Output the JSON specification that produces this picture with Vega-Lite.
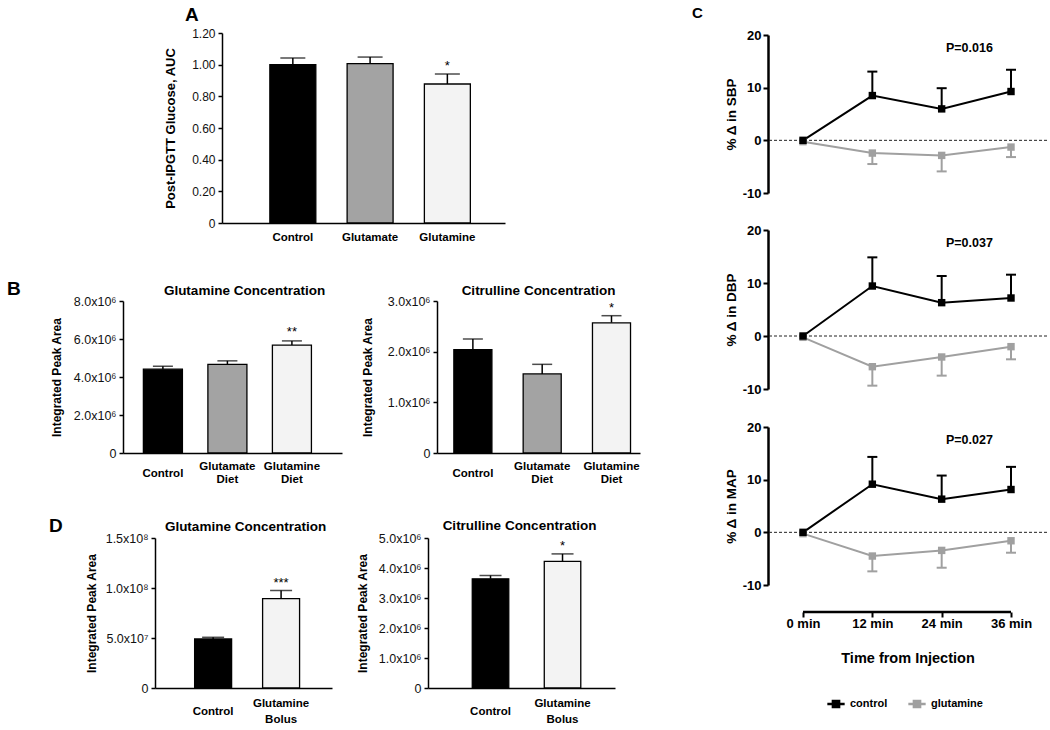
{
 "$schema": "https://vega.github.io/schema/vega-lite/v6.json",
 "background": "white",
 "padding": 0,
 "config": {
  "view": {"stroke": null},
  "font": "Liberation Sans",
  "axis": {"grid": false, "labelOverlap": false, "tickCount": 20, "domainColor": "#000", "tickColor": "#000", "labelColor": "#111", "titleColor": "#000", "labelFont": "Liberation Sans", "titleFont": "Liberation Sans"},
  "title": {"font": "Liberation Sans", "fontWeight": "bold", "color": "#000"},
  "text": {"font": "Liberation Sans"}
 },
 "resolve": {"scale": {"color": "independent"}, "legend": {"color": "independent"}},
 "spacing": 0,
 "hconcat": [
  {
   "spacing": 0,
   "vconcat": [
    {"width": 1, "height": 6, "data": {"values": []}, "mark": "point"},
    {
     "hconcat": [
      {"width": 222, "height": 190, "data": {"values": []}, "mark": "point"},
      {
       "width": 283, "height": 190,
       "title": {"text": "A", "anchor": "start", "frame": "group", "dx": -37, "fontSize": 19, "offset": 2},
       "data": {"values": [
        {"group": "Control", "label": "Control", "mean": 1.0, "err": 1.042},
        {"group": "Glutamate", "label": "Glutamate", "mean": 1.006, "err": 1.048},
        {"group": "Glutamine", "label": "Glutamine", "mean": 0.878, "err": 0.941, "sig": "*"}
       ]},
       "encoding": {
        "x": {"field": "label", "type": "nominal", "sort": null, "scale": {"paddingInner": 0.405, "paddingOuter": 0.534, "align": 0.58},
         "axis": {"title": null, "labelAngle": 0, "ticks": false, "tickSize": 0, "domainWidth": 1.5, "labelFontWeight": "bold", "labelFontSize": 11.5, "labelColor": "#000", "labelPadding": 14, "labelBaseline": "middle"}}
       },
       "layer": [
        {"mark": {"type": "rule", "color": "#000", "strokeWidth": 1.5},
         "encoding": {"y": {"field": "mean", "type": "quantitative", "title": "Post-IPGTT Glucose, AUC", "scale": {"domain": [0, 1.2], "nice": false},
          "axis": {"values": [0, 0.2, 0.4, 0.6, 0.8, 1.0, 1.2], "tickCount": 20, "labelOverlap": false, "labelExpr": "datum.value == 0 ? '0' : format(datum.value, '.2f')", "titleFontSize": 13, "titleFontWeight": "bold", "titlePadding": 14, "labelFontSize": 12, "tickSize": 4, "tickWidth": 1.5, "domainWidth": 1.5, "labelPadding": 3}},
          "y2": {"field": "err"}}},
        {"mark": {"type": "bar", "stroke": "#000", "strokeWidth": 1.3},
         "encoding": {"y": {"field": "mean", "type": "quantitative", "title": "Post-IPGTT Glucose, AUC"},
          "color": {"field": "group", "type": "nominal", "scale": {"domain": ["Control", "Glutamate", "Glutamine"], "range": ["#000000", "#a3a3a3", "#f3f3f3"]}, "legend": null}}},
        {"mark": {"type": "tick", "orient": "horizontal", "color": "#000", "thickness": 1.5, "size": 25},
         "encoding": {"y": {"field": "err", "type": "quantitative", "title": "Post-IPGTT Glucose, AUC"}}},
        {"transform": [{"filter": "datum.sig"}],
         "mark": {"type": "text", "fontSize": 13, "dy": -4, "baseline": "alphabetic", "color": "#000"},
         "encoding": {"y": {"field": "err", "type": "quantitative", "title": "Post-IPGTT Glucose, AUC"}, "text": {"field": "sig"}}}
       ]
      }
     ],
     "spacing": 0, "bounds": "flush"
    },
    {"width": 1, "height": 12, "data": {"values": []}, "mark": "point"},
    {
     "hconcat": [
      {"width": 123, "height": 152, "data": {"values": []}, "mark": "point",
       "title": {"text": ["", "B"], "lineHeight": 25, "anchor": "start", "frame": "group", "dx": 7, "fontSize": 19, "offset": 2}},
      {
       "width": 219, "height": 152,
       "title": {"text": "Glutamine Concentration", "frame": "group", "fontSize": 13.5, "offset": 1, "dx": 12, "dy": 3},
       "data": {"values": [
        {"group": "Control", "label": "Control", "mean": 4410000, "err": 4570000},
        {"group": "Glutamate", "label": "Glutamate Diet", "mean": 4660000, "err": 4850000},
        {"group": "Glutamine", "label": "Glutamine Diet", "mean": 5680000, "err": 5900000, "sig": "**"}
       ]},
       "encoding": {
        "x": {"field": "label", "type": "nominal", "sort": null, "scale": {"paddingInner": 0.395, "paddingOuter": 0.395, "align": 0.4},
         "axis": {"title": null, "labelAngle": 0, "ticks": false, "tickSize": 0, "domainWidth": 1.5, "labelFontWeight": "bold", "labelFontSize": 11.5, "labelColor": "#000", "labelPadding": 13.5, "labelBaseline": "middle", "labelLineHeight": 6.5,
          "labelExpr": "indexof(datum.label, ' ') < 0 ? ['\u200b', datum.label] : [split(datum.label, ' ')[0], '\u200b', split(datum.label, ' ')[1]]"}}
       },
       "layer": [
        {"mark": {"type": "rule", "color": "#000", "strokeWidth": 1.5},
         "encoding": {"y": {"field": "mean", "type": "quantitative", "title": "Integrated  Peak Area", "scale": {"domain": [0, 8000000], "nice": false},
          "axis": {"values": [0, 2000000, 4000000, 6000000, 8000000], "tickCount": 20, "labelOverlap": false, "labelExpr": "datum.value == 0 ? '0' : format(datum.value/1e6, '.1f') + 'x10⁶'", "titleFontSize": 12, "titleFontWeight": "bold", "titlePadding": 10, "labelFontSize": 12.5, "tickSize": 4, "tickWidth": 1.5, "domainWidth": 1.5, "labelPadding": 3}},
          "y2": {"field": "err"}}},
        {"mark": {"type": "bar", "stroke": "#000", "strokeWidth": 1.3},
         "encoding": {"y": {"field": "mean", "type": "quantitative", "title": "Integrated  Peak Area"},
          "color": {"field": "group", "type": "nominal", "scale": {"domain": ["Control", "Glutamate", "Glutamine"], "range": ["#000000", "#a3a3a3", "#f3f3f3"]}, "legend": null}}},
        {"mark": {"type": "tick", "orient": "horizontal", "color": "#000", "thickness": 1.5, "size": 20},
         "encoding": {"y": {"field": "err", "type": "quantitative", "title": "Integrated  Peak Area"}}},
        {"transform": [{"filter": "datum.sig"}],
         "mark": {"type": "text", "fontSize": 13, "dy": -5, "baseline": "alphabetic", "color": "#000"},
         "encoding": {"y": {"field": "err", "type": "quantitative", "title": "Integrated  Peak Area"}, "text": {"field": "sig"}}}
       ]
      },
      {"width": 95, "height": 152, "data": {"values": []}, "mark": "point"},
      {
       "width": 203, "height": 152,
       "title": {"text": "Citrulline Concentration", "frame": "group", "fontSize": 13.5, "offset": 1, "dx": 0, "dy": 3},
       "data": {"values": [
        {"group": "Control", "label": "Control", "mean": 2040000, "err": 2250000},
        {"group": "Glutamate", "label": "Glutamate Diet", "mean": 1560000, "err": 1750000},
        {"group": "Glutamine", "label": "Glutamine Diet", "mean": 2570000, "err": 2710000, "sig": "*"}
       ]},
       "encoding": {
        "x": {"field": "label", "type": "nominal", "sort": null, "scale": {"paddingInner": 0.451, "paddingOuter": 0.19, "align": 0.64},
         "axis": {"title": null, "labelAngle": 0, "ticks": false, "tickSize": 0, "domainWidth": 1.5, "labelFontWeight": "bold", "labelFontSize": 11.5, "labelColor": "#000", "labelPadding": 13.5, "labelBaseline": "middle", "labelLineHeight": 6.5,
          "labelExpr": "indexof(datum.label, ' ') < 0 ? ['\u200b', datum.label] : [split(datum.label, ' ')[0], '\u200b', split(datum.label, ' ')[1]]"}}
       },
       "layer": [
        {"mark": {"type": "rule", "color": "#000", "strokeWidth": 1.5},
         "encoding": {"y": {"field": "mean", "type": "quantitative", "title": "Integrated  Peak Area", "scale": {"domain": [0, 3000000], "nice": false},
          "axis": {"values": [0, 1000000, 2000000, 3000000], "tickCount": 20, "labelOverlap": false, "labelExpr": "datum.value == 0 ? '0' : format(datum.value/1e6, '.1f') + 'x10⁶'", "titleFontSize": 12, "titleFontWeight": "bold", "titlePadding": 13, "labelFontSize": 12.5, "tickSize": 4, "tickWidth": 1.5, "domainWidth": 1.5, "labelPadding": 3}},
          "y2": {"field": "err"}}},
        {"mark": {"type": "bar", "stroke": "#000", "strokeWidth": 1.3},
         "encoding": {"y": {"field": "mean", "type": "quantitative", "title": "Integrated  Peak Area"},
          "color": {"field": "group", "type": "nominal", "scale": {"domain": ["Control", "Glutamate", "Glutamine"], "range": ["#000000", "#a3a3a3", "#f3f3f3"]}, "legend": null}}},
        {"mark": {"type": "tick", "orient": "horizontal", "color": "#000", "thickness": 1.5, "size": 20},
         "encoding": {"y": {"field": "err", "type": "quantitative", "title": "Integrated  Peak Area"}}},
        {"transform": [{"filter": "datum.sig"}],
         "mark": {"type": "text", "fontSize": 13, "dy": -4, "baseline": "alphabetic", "color": "#000"},
         "encoding": {"y": {"field": "err", "type": "quantitative", "title": "Integrated  Peak Area"}, "text": {"field": "sig"}}}
       ]
      }
     ],
     "spacing": 0, "bounds": "flush"
    },
    {"width": 1, "height": 7, "data": {"values": []}, "mark": "point"},
    {
     "hconcat": [
      {"width": 155, "height": 150, "data": {"values": []}, "mark": "point",
       "title": {"text": ["", "D"], "lineHeight": 25, "anchor": "start", "frame": "group", "dx": 49, "fontSize": 19, "offset": 2}},
      {
       "width": 177, "height": 150,
       "title": {"text": "Glutamine Concentration", "frame": "group", "fontSize": 13.5, "offset": 1, "dx": 2, "dy": 2.5},
       "data": {"values": [
        {"group": "Control", "label": "Control", "mean": 49000000, "err": 50700000},
        {"group": "Glutamine", "label": "Glutamine Bolus", "mean": 89400000, "err": 97400000, "sig": "***"}
       ]},
       "encoding": {
        "x": {"field": "label", "type": "nominal", "sort": null, "scale": {"paddingInner": 0.456, "paddingOuter": 0.53, "align": 0.55},
         "axis": {"title": null, "labelAngle": 0, "ticks": false, "tickSize": 0, "domainWidth": 1.5, "labelFontWeight": "bold", "labelFontSize": 11.5, "labelColor": "#000", "labelPadding": 15, "labelBaseline": "middle", "labelLineHeight": 8,
          "labelExpr": "indexof(datum.label, ' ') < 0 ? ['\u200b', datum.label] : [split(datum.label, ' ')[0], '\u200b', split(datum.label, ' ')[1]]"}}
       },
       "layer": [
        {"mark": {"type": "rule", "color": "#000", "strokeWidth": 1.5},
         "encoding": {"y": {"field": "mean", "type": "quantitative", "title": "Integrated  Peak Area", "scale": {"domain": [0, 150000000], "nice": false},
          "axis": {"values": [0, 50000000, 100000000, 150000000], "tickCount": 20, "labelOverlap": false, "labelExpr": "datum.value == 0 ? '0' : datum.value < 1e8 ? format(datum.value/1e7, '.1f') + 'x10⁷' : format(datum.value/1e8, '.1f') + 'x10⁸'", "titleFontSize": 12, "titleFontWeight": "bold", "titlePadding": 7, "labelFontSize": 12.5, "tickSize": 4, "tickWidth": 1.5, "domainWidth": 1.5, "labelPadding": 3}},
          "y2": {"field": "err"}}},
        {"mark": {"type": "bar", "stroke": "#000", "strokeWidth": 1.3},
         "encoding": {"y": {"field": "mean", "type": "quantitative", "title": "Integrated  Peak Area"},
          "color": {"field": "group", "type": "nominal", "scale": {"domain": ["Control", "Glutamate", "Glutamine"], "range": ["#000000", "#a3a3a3", "#f3f3f3"]}, "legend": null}}},
        {"mark": {"type": "tick", "orient": "horizontal", "color": "#000", "thickness": 1.5, "size": 22},
         "encoding": {"y": {"field": "err", "type": "quantitative", "title": "Integrated  Peak Area"}}},
        {"transform": [{"filter": "datum.sig"}],
         "mark": {"type": "text", "fontSize": 13, "dy": -4, "baseline": "alphabetic", "color": "#000"},
         "encoding": {"y": {"field": "err", "type": "quantitative", "title": "Integrated  Peak Area"}, "text": {"field": "sig"}}}
       ]
      },
      {"width": 96, "height": 150, "data": {"values": []}, "mark": "point"},
      {
       "width": 187, "height": 150,
       "title": {"text": "Citrulline Concentration", "frame": "group", "fontSize": 13.5, "offset": 1, "dx": -2, "dy": 1},
       "data": {"values": [
        {"group": "Control", "label": "Control", "mean": 3640000, "err": 3750000},
        {"group": "Glutamine", "label": "Glutamine Bolus", "mean": 4220000, "err": 4470000, "sig": "*"}
       ]},
       "encoding": {
        "x": {"field": "label", "type": "nominal", "sort": null, "scale": {"paddingInner": 0.493, "paddingOuter": 0.545, "align": 0.564},
         "axis": {"title": null, "labelAngle": 0, "ticks": false, "tickSize": 0, "domainWidth": 1.5, "labelFontWeight": "bold", "labelFontSize": 11.5, "labelColor": "#000", "labelPadding": 15, "labelBaseline": "middle", "labelLineHeight": 8,
          "labelExpr": "indexof(datum.label, ' ') < 0 ? ['\u200b', datum.label] : [split(datum.label, ' ')[0], '\u200b', split(datum.label, ' ')[1]]"}}
       },
       "layer": [
        {"mark": {"type": "rule", "color": "#000", "strokeWidth": 1.5},
         "encoding": {"y": {"field": "mean", "type": "quantitative", "title": "Integrated  Peak Area", "scale": {"domain": [0, 5000000], "nice": false},
          "axis": {"values": [0, 1000000, 2000000, 3000000, 4000000, 5000000], "tickCount": 20, "labelOverlap": false, "labelExpr": "datum.value == 0 ? '0' : format(datum.value/1e6, '.1f') + 'x10⁶'", "titleFontSize": 12, "titleFontWeight": "bold", "titlePadding": 9, "labelFontSize": 12.5, "tickSize": 4, "tickWidth": 1.5, "domainWidth": 1.5, "labelPadding": 3}},
          "y2": {"field": "err"}}},
        {"mark": {"type": "bar", "stroke": "#000", "strokeWidth": 1.3},
         "encoding": {"y": {"field": "mean", "type": "quantitative", "title": "Integrated  Peak Area"},
          "color": {"field": "group", "type": "nominal", "scale": {"domain": ["Control", "Glutamate", "Glutamine"], "range": ["#000000", "#a3a3a3", "#f3f3f3"]}, "legend": null}}},
        {"mark": {"type": "tick", "orient": "horizontal", "color": "#000", "thickness": 1.5, "size": 22},
         "encoding": {"y": {"field": "err", "type": "quantitative", "title": "Integrated  Peak Area"}}},
        {"transform": [{"filter": "datum.sig"}],
         "mark": {"type": "text", "fontSize": 13, "dy": -4, "baseline": "alphabetic", "color": "#000"},
         "encoding": {"y": {"field": "err", "type": "quantitative", "title": "Integrated  Peak Area"}, "text": {"field": "sig"}}}
       ]
      }
     ],
     "spacing": 0, "bounds": "flush"
    }
   ]
  },
  {"width": 52, "height": 1, "data": {"values": []}, "mark": "point"},
  {
   "vconcat": [
    {"width": 1, "height": 35, "data": {"values": []}, "mark": "point"},
    {
     "width": 279, "height": 158,
     "title": {"text": "C", "anchor": "start", "frame": "group", "dx": -76, "fontSize": 15, "offset": 8},
     "data": {"values": [
      {"t": 0, "g": "glutamine", "v": -0.25, "e": -0.25},
      {"t": 12, "g": "glutamine", "v": -2.42, "e": -4.5},
      {"t": 24, "g": "glutamine", "v": -2.86, "e": -5.9},
      {"t": 36, "g": "glutamine", "v": -1.28, "e": -3.18},
      {"t": 0, "g": "control", "v": 0, "e": 0},
      {"t": 12, "g": "control", "v": 8.5, "e": 13.05},
      {"t": 24, "g": "control", "v": 5.97, "e": 9.9},
      {"t": 36, "g": "control", "v": 9.27, "e": 13.4}
     ]},
     "layer": [
      {"data": {"values": [{}]}, "mark": {"type": "rule", "strokeDash": [3, 2], "color": "#222", "strokeWidth": 1},
       "encoding": {"y": {"datum": 0, "type": "quantitative", "title": "% Δ in SBP", "scale": {"domain": [-10, 20], "nice": false, "zero": false},
        "axis": {"values": [-10, 0, 10, 20], "tickCount": 20, "labelOverlap": false, "labelExpr": "datum.value < 0 ? '-' + abs(datum.value) : '' + datum.value", "labelFontWeight": "bold", "labelFontSize": 13, "labelColor": "#000", "titleFontSize": 13.5, "titleFontWeight": "bold", "domainWidth": 2.5, "tickWidth": 2, "tickSize": 5, "labelPadding": 2, "titlePadding": 4}}}},
      {"transform": [{"filter": "datum.t > 0"}], "mark": {"type": "rule", "strokeWidth": 2},
       "encoding": {"x": {"field": "t", "type": "quantitative", "scale": {"domain": [-6.06, 42.23], "nice": false, "zero": false}, "axis": null},
        "y": {"field": "v", "type": "quantitative", "title": "% Δ in SBP"}, "y2": {"field": "e"},
        "color": {"field": "g", "type": "nominal", "scale": {"domain": ["control", "glutamine"], "range": ["#000000", "#a0a0a0"]}, "legend": null}}},
      {"transform": [{"filter": "datum.t > 0"}], "mark": {"type": "tick", "orient": "horizontal", "size": 10, "thickness": 2, "opacity": 1},
       "encoding": {"x": {"field": "t", "type": "quantitative"}, "y": {"field": "e", "type": "quantitative", "title": "% Δ in SBP"},
        "color": {"field": "g", "type": "nominal", "legend": null}}},
      {"mark": {"type": "line", "strokeWidth": 2},
       "encoding": {"x": {"field": "t", "type": "quantitative"}, "y": {"field": "v", "type": "quantitative", "title": "% Δ in SBP"},
        "color": {"field": "g", "type": "nominal", "legend": null}}},
      {"mark": {"type": "point", "shape": "square", "filled": true, "size": 55, "opacity": 1},
       "encoding": {"x": {"field": "t", "type": "quantitative"}, "y": {"field": "v", "type": "quantitative", "title": "% Δ in SBP"},
        "color": {"field": "g", "type": "nominal", "legend": null}}},
      {"data": {"values": [{"p": "P=0.016"}]}, "mark": {"type": "text", "fontWeight": "bold", "fontSize": 12.5, "color": "#000", "baseline": "middle"},
       "encoding": {"x": {"datum": 28.8, "type": "quantitative"}, "y": {"datum": 17.5, "type": "quantitative"}, "text": {"field": "p"}}}
     ]
    },
    {"width": 1, "height": 37, "data": {"values": []}, "mark": "point"},
    {
     "width": 279, "height": 159,
     "data": {"values": [
      {"t": 0, "g": "glutamine", "v": -0.25, "e": -0.25},
      {"t": 12, "g": "glutamine", "v": -5.79, "e": -9.37},
      {"t": 24, "g": "glutamine", "v": -3.96, "e": -7.48},
      {"t": 36, "g": "glutamine", "v": -2.01, "e": -4.4},
      {"t": 0, "g": "control", "v": 0, "e": 0},
      {"t": 12, "g": "control", "v": 9.43, "e": 14.84},
      {"t": 24, "g": "control", "v": 6.29, "e": 11.32},
      {"t": 36, "g": "control", "v": 7.17, "e": 11.57}
     ]},
     "layer": [
      {"data": {"values": [{}]}, "mark": {"type": "rule", "strokeDash": [3, 2], "color": "#222", "strokeWidth": 1},
       "encoding": {"y": {"datum": 0, "type": "quantitative", "title": "% Δ in DBP", "scale": {"domain": [-10, 20], "nice": false, "zero": false},
        "axis": {"values": [-10, 0, 10, 20], "tickCount": 20, "labelOverlap": false, "labelExpr": "datum.value < 0 ? '-' + abs(datum.value) : '' + datum.value", "labelFontWeight": "bold", "labelFontSize": 13, "labelColor": "#000", "titleFontSize": 13.5, "titleFontWeight": "bold", "domainWidth": 2.5, "tickWidth": 2, "tickSize": 5, "labelPadding": 2, "titlePadding": 4}}}},
      {"transform": [{"filter": "datum.t > 0"}], "mark": {"type": "rule", "strokeWidth": 2},
       "encoding": {"x": {"field": "t", "type": "quantitative", "scale": {"domain": [-6.06, 42.23], "nice": false, "zero": false}, "axis": null},
        "y": {"field": "v", "type": "quantitative", "title": "% Δ in DBP"}, "y2": {"field": "e"},
        "color": {"field": "g", "type": "nominal", "scale": {"domain": ["control", "glutamine"], "range": ["#000000", "#a0a0a0"]}, "legend": null}}},
      {"transform": [{"filter": "datum.t > 0"}], "mark": {"type": "tick", "orient": "horizontal", "size": 10, "thickness": 2, "opacity": 1},
       "encoding": {"x": {"field": "t", "type": "quantitative"}, "y": {"field": "e", "type": "quantitative", "title": "% Δ in DBP"},
        "color": {"field": "g", "type": "nominal", "legend": null}}},
      {"mark": {"type": "line", "strokeWidth": 2},
       "encoding": {"x": {"field": "t", "type": "quantitative"}, "y": {"field": "v", "type": "quantitative", "title": "% Δ in DBP"},
        "color": {"field": "g", "type": "nominal", "legend": null}}},
      {"mark": {"type": "point", "shape": "square", "filled": true, "size": 55, "opacity": 1},
       "encoding": {"x": {"field": "t", "type": "quantitative"}, "y": {"field": "v", "type": "quantitative", "title": "% Δ in DBP"},
        "color": {"field": "g", "type": "nominal", "legend": null}}},
      {"data": {"values": [{"p": "P=0.037"}]}, "mark": {"type": "text", "fontWeight": "bold", "fontSize": 12.5, "color": "#000", "baseline": "middle"},
       "encoding": {"x": {"datum": 28.8, "type": "quantitative"}, "y": {"datum": 17.5, "type": "quantitative"}, "text": {"field": "p"}}}
     ]
    },
    {"width": 1, "height": 38, "data": {"values": []}, "mark": "point"},
    {
     "width": 279, "height": 158,
     "data": {"values": [
      {"t": 0, "g": "glutamine", "v": -0.25, "e": -0.25},
      {"t": 12, "g": "glutamine", "v": -4.5, "e": -7.41},
      {"t": 24, "g": "glutamine", "v": -3.43, "e": -6.72},
      {"t": 36, "g": "glutamine", "v": -1.6, "e": -3.87},
      {"t": 0, "g": "control", "v": 0, "e": 0},
      {"t": 12, "g": "control", "v": 9.14, "e": 14.32},
      {"t": 24, "g": "control", "v": 6.3, "e": 10.78},
      {"t": 36, "g": "control", "v": 8.13, "e": 12.43}
     ]},
     "layer": [
      {"data": {"values": [{}]}, "mark": {"type": "rule", "strokeDash": [3, 2], "color": "#222", "strokeWidth": 1},
       "encoding": {"y": {"datum": 0, "type": "quantitative", "title": "% Δ in MAP", "scale": {"domain": [-10, 20], "nice": false, "zero": false},
        "axis": {"values": [-10, 0, 10, 20], "tickCount": 20, "labelOverlap": false, "labelExpr": "datum.value < 0 ? '-' + abs(datum.value) : '' + datum.value", "labelFontWeight": "bold", "labelFontSize": 13, "labelColor": "#000", "titleFontSize": 13.5, "titleFontWeight": "bold", "domainWidth": 2.5, "tickWidth": 2, "tickSize": 5, "labelPadding": 2, "titlePadding": 4}}}},
      {"data": {"values": [{}]}, "mark": {"type": "rule", "color": "#000", "strokeWidth": 2.5},
       "encoding": {"x": {"datum": 0, "type": "quantitative"}, "x2": {"datum": 36}, "y": {"datum": -15.12, "type": "quantitative"}}},
      {"transform": [{"filter": "datum.t > 0"}], "mark": {"type": "rule", "strokeWidth": 2},
       "encoding": {"x": {"field": "t", "type": "quantitative", "title": "Time from Injection", "scale": {"domain": [-6.06, 42.23], "nice": false, "zero": false},
         "axis": {"values": [0, 12, 24, 36], "tickCount": 20, "labelOverlap": false, "labelExpr": "datum.value + ' min'", "offset": 27, "domain": false, "ticks": true, "tickSize": 5, "tickWidth": 2, "labelFontWeight": "bold", "labelFontSize": 13, "labelColor": "#000", "labelPadding": 0, "titleFontSize": 14.5, "titleFontWeight": "bold", "titlePadding": 21}},
        "y": {"field": "v", "type": "quantitative", "title": "% Δ in MAP"}, "y2": {"field": "e"},
        "stroke": {"field": "g", "type": "nominal", "scale": {"domain": ["control", "glutamine"], "range": ["#000000", "#a0a0a0"]}, "legend": null}}},
      {"transform": [{"filter": "datum.t > 0"}], "mark": {"type": "tick", "orient": "horizontal", "size": 10, "thickness": 2, "opacity": 1},
       "encoding": {"x": {"field": "t", "type": "quantitative", "title": "Time from Injection"}, "y": {"field": "e", "type": "quantitative", "title": "% Δ in MAP"},
        "fill": {"field": "g", "type": "nominal", "scale": {"domain": ["control", "glutamine"], "range": ["#000000", "#a0a0a0"]}, "legend": null}}},
      {"mark": {"type": "line", "strokeWidth": 2},
       "encoding": {"x": {"field": "t", "type": "quantitative", "title": "Time from Injection"}, "y": {"field": "v", "type": "quantitative", "title": "% Δ in MAP"},
        "stroke": {"field": "g", "type": "nominal", "legend": null}}},
      {"mark": {"type": "point", "shape": "square", "filled": true, "size": 55, "opacity": 1},
       "encoding": {"x": {"field": "t", "type": "quantitative", "title": "Time from Injection"}, "y": {"field": "v", "type": "quantitative", "title": "% Δ in MAP"},
        "color": {"field": "g", "type": "nominal", "scale": {"domain": ["control", "glutamine"], "range": ["#000000", "#a0a0a0"]},
         "legend": {"orient": "none", "legendX": 59, "legendY": 268, "direction": "horizontal", "title": null, "symbolType": "M-1,-0.14H1V0.14H-1Z M-0.5,-0.5H0.5V0.5H-0.5Z", "symbolSize": 300, "symbolStrokeWidth": 0, "symbolOpacity": 1, "labelFontSize": 11, "labelFontWeight": "bold", "labelFont": "Liberation Sans", "labelColor": "#000", "columnPadding": 20, "labelOffset": 5}}}},
      {"data": {"values": [{"p": "P=0.027"}]}, "mark": {"type": "text", "fontWeight": "bold", "fontSize": 12.5, "color": "#000", "baseline": "middle"},
       "encoding": {"x": {"datum": 28.8, "type": "quantitative"}, "y": {"datum": 17.5, "type": "quantitative"}, "text": {"field": "p"}}}
     ]
    }
   ],
   "spacing": 0, "bounds": "flush",
   "resolve": {"legend": {"color": "independent"}}
  }
 ]
}
